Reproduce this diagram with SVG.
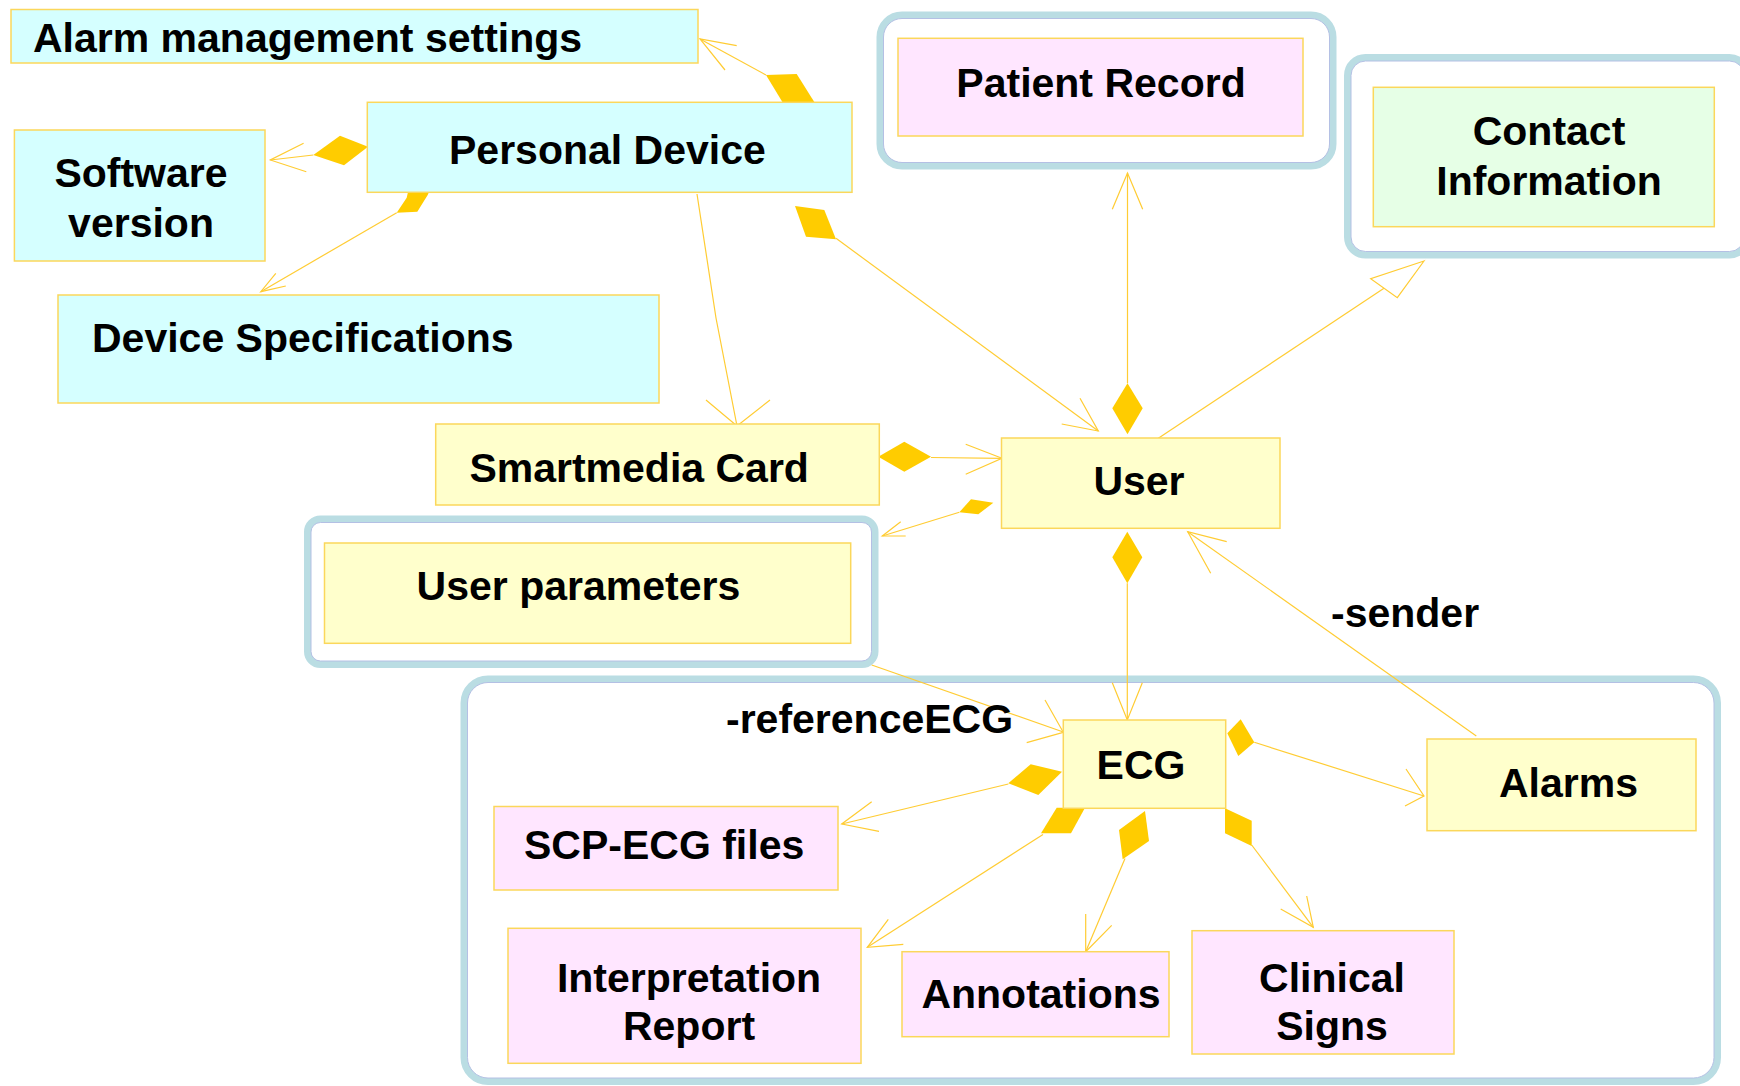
<svg xmlns="http://www.w3.org/2000/svg" width="1740" height="1086" viewBox="0 0 1740 1086">
<style>
.box{stroke:#FBD75B;stroke-width:1.5}
.cyan{fill:#D5FFFF}.yellow{fill:#FFFFCC}.pink{fill:#FFE6FF}.green{fill:#E6FFE6}
.frame{fill:none;stroke:#BADDE3;stroke-width:7}
.frin{fill:none;stroke:#B4C0E4;stroke-width:1}
.lbl{font-family:"Liberation Sans",Arial,sans-serif;font-weight:bold;font-size:41px;fill:#000}
.mid{text-anchor:middle}
#connectors line,#connectors polyline{stroke:#FFCC33;stroke-width:1.2;fill:none}
.dia{fill:#FFCC00}
.tri{fill:#FFFFFF;stroke:#FFCC33;stroke-width:1.2}
</style>
<rect width="1740" height="1086" fill="#FFFFFF"/>
<g id="frames">
  <g id="frame-patient"><rect class="frame" x="880" y="15" width="453" height="151" rx="22"/><rect class="frin" x="883.5" y="18.5" width="446" height="144" rx="18.5"/></g>
  <g id="frame-contact"><rect class="frame" x="1347.5" y="57.5" width="400" height="197.5" rx="18"/><rect class="frin" x="1351" y="61" width="393" height="190.5" rx="14.5"/></g>
  <g id="frame-userparams"><rect class="frame" x="307.5" y="519" width="567.5" height="145.5" rx="13"/><rect class="frin" x="311" y="522.5" width="560.5" height="138.5" rx="9.5"/></g>
  <g id="frame-ecg"><rect class="frame" x="464" y="679" width="1253.5" height="402.5" rx="24"/><rect class="frin" x="467.5" y="682.5" width="1246.5" height="395.5" rx="20.5"/></g>
</g>
<g id="connectors">
  <!-- Personal Device -> Alarm management settings -->
  <line x1="766" y1="75" x2="700" y2="39"/>
  <polyline points="736.7,45.7 700,39 725,70"/>
  <polygon class="dia" points="766,75 796.7,74 814.3,102 783.3,103.5"/>
  <!-- Personal Device -> Software version -->
  <line x1="313.3" y1="155" x2="270.3" y2="160"/>
  <polyline points="303.6,143.3 270.3,160 306.3,171.7"/>
  <polygon class="dia" points="313.3,155 340,135.7 368,146.7 344,165.3"/>
  <!-- Personal Device -> Device Specifications -->
  <line x1="396.7" y1="212.7" x2="260.8" y2="291.7"/>
  <polyline points="275.8,273.3 260.8,291.7 285.8,286"/>
  <polygon class="dia" points="396.7,212.7 406.7,197.7 408,192 429,192 427.7,195 417.3,211.7"/>
  <!-- Personal Device -> Smartmedia Card -->
  <polyline points="697,194 716,318 737,426"/>
  <polyline points="706,400 737,426 770,400"/>
  <!-- Personal Device -> User -->
  <line x1="836" y1="238.3" x2="1098.3" y2="431"/>
  <polyline points="1061.7,424 1098.3,431 1080,398.3"/>
  <polygon class="dia" points="795,206 824.3,210 836,239.3 806,236.7"/>
  <!-- User -> Patient Record -->
  <line x1="1127.5" y1="173" x2="1127.5" y2="383.3"/>
  <polyline points="1112.3,209.3 1127.5,173 1142.7,209.3"/>
  <polygon class="dia" points="1127.5,383.3 1142.7,408.3 1127.5,434.3 1112.3,408.3"/>
  <!-- User -> Contact Information -->
  <line x1="1149.3" y1="444.3" x2="1384" y2="288.2"/>
  <polygon class="tri" points="1424,261 1370.7,278.7 1397.3,297.7"/>
  <!-- Smartmedia Card -> User -->
  <line x1="931" y1="457.5" x2="1002" y2="458.3"/>
  <polyline points="965.7,444.3 1002,458.3 965.7,474.3"/>
  <polygon class="dia" points="878.3,456.7 904.3,441.7 931,456.7 904.3,471.7"/>
  <!-- User -> User parameters -->
  <line x1="959.3" y1="512.3" x2="882.3" y2="536"/>
  <polyline points="905.7,536 882.3,536 900.7,521.7"/>
  <polygon class="dia" points="959.3,512.3 971,499.3 993.3,502.7 978.3,514.3"/>
  <!-- User -> ECG -->
  <line x1="1127.3" y1="583.3" x2="1127.3" y2="720"/>
  <polyline points="1112.3,682.7 1127.3,720 1142.3,682.7"/>
  <polygon class="dia" points="1127.3,531.7 1142.3,557.3 1127.3,583.3 1112.3,557.3"/>
  <!-- Alarms -> User (-sender) -->
  <line x1="1476.3" y1="736" x2="1187.7" y2="531.7"/>
  <polyline points="1226.7,541.7 1187.7,531.7 1210.7,573.3"/>
  <!-- User parameters -> ECG (-referenceECG) -->
  <line x1="871.7" y1="665" x2="1063.3" y2="732"/>
  <polyline points="1045,700 1063.3,732.3 1026.7,742.7"/>
  <!-- ECG -> Alarms -->
  <line x1="1254.3" y1="742.3" x2="1424" y2="796"/>
  <polyline points="1406,769 1424,796 1405,806"/>
  <polygon class="dia" points="1227.3,733.3 1240.7,719.3 1254.3,742.3 1238.3,756"/>
  <!-- ECG -> SCP-ECG files -->
  <line x1="1008.3" y1="784" x2="841.7" y2="824"/>
  <polyline points="871.7,801.7 841.7,824 879,831.3"/>
  <polygon class="dia" points="1008.3,783.3 1030.7,764.3 1062,771.7 1038.3,795"/>
  <!-- ECG -> Interpretation Report -->
  <line x1="1043" y1="834.5" x2="867.3" y2="947.3"/>
  <polyline points="888.3,919.3 867.3,947.3 903.3,944.3"/>
  <polygon class="dia" points="1041,833.3 1056.7,807.7 1085,807.7 1071,833.3"/>
  <!-- ECG -> Annotations -->
  <line x1="1125" y1="858.5" x2="1085.7" y2="951.7"/>
  <polyline points="1085.7,914 1085.7,951.7 1111.7,925.3"/>
  <polygon class="dia" points="1119,830 1145,811 1149,841 1122.7,859.3"/>
  <!-- ECG -> Clinical Signs -->
  <line x1="1251.7" y1="845" x2="1313.3" y2="927.3"/>
  <polyline points="1280.7,909 1313.3,927.3 1306.7,896"/>
  <polygon class="dia" points="1225,808.3 1251.7,820.7 1251.7,846 1225,833.3"/>
  <!-- association labels -->
  <text class="lbl" x="1331" y="627">-sender</text>
  <text class="lbl" x="726" y="733">-referenceECG</text>
</g>
<g id="alarm-management-settings"><rect class="box cyan" x="11" y="9.5" width="687" height="53.5"/><text class="lbl" x="33" y="52">Alarm management settings</text></g>
<g id="personal-device"><rect class="box cyan" x="367.3" y="102.3" width="484.7" height="90"/><text class="lbl" x="449" y="164">Personal Device</text></g>
<g id="software-version"><rect class="box cyan" x="14.4" y="130" width="250.6" height="131"/><text class="lbl mid" x="141" y="187">Software</text><text class="lbl mid" x="141" y="237">version</text></g>
<g id="device-specifications"><rect class="box cyan" x="58" y="295" width="601" height="108"/><text class="lbl" x="92" y="352">Device Specifications</text></g>
<g id="patient-record"><rect class="box pink" x="898" y="38.3" width="405" height="97.7"/><text class="lbl mid" x="1101" y="97">Patient Record</text></g>
<g id="contact-information"><rect class="box green" x="1373.3" y="87.3" width="341" height="139.4"/><text class="lbl mid" x="1549" y="145">Contact</text><text class="lbl mid" x="1549" y="195">Information</text></g>
<g id="smartmedia-card"><rect class="box yellow" x="435.7" y="424" width="443.6" height="81"/><text class="lbl" x="469.4" y="482">Smartmedia Card</text></g>
<g id="user"><rect class="box yellow" x="1001.5" y="438" width="278.5" height="90.3"/><text class="lbl mid" x="1139" y="495">User</text></g>
<g id="user-parameters"><rect class="box yellow" x="324.5" y="543" width="526.2" height="100.3"/><text class="lbl" x="416.6" y="600">User parameters</text></g>
<g id="ecg"><rect class="box yellow" x="1063.3" y="720" width="162.4" height="88.3"/><text class="lbl mid" x="1141" y="779">ECG</text></g>
<g id="alarms"><rect class="box yellow" x="1427" y="739" width="269" height="91.7"/><text class="lbl" x="1499" y="797">Alarms</text></g>
<g id="scp-ecg-files"><rect class="box pink" x="494" y="806.5" width="344" height="83.5"/><text class="lbl" x="524" y="859">SCP-ECG files</text></g>
<g id="interpretation-report"><rect class="box pink" x="508" y="928.3" width="353" height="135"/><text class="lbl mid" x="689" y="992">Interpretation</text><text class="lbl mid" x="689" y="1040">Report</text></g>
<g id="annotations"><rect class="box pink" x="902" y="951.7" width="267" height="85"/><text class="lbl mid" x="1041" y="1008">Annotations</text></g>
<g id="clinical-signs"><rect class="box pink" x="1192" y="930.7" width="262" height="123.3"/><text class="lbl mid" x="1332" y="992">Clinical</text><text class="lbl mid" x="1332" y="1040">Signs</text></g>
</svg>
